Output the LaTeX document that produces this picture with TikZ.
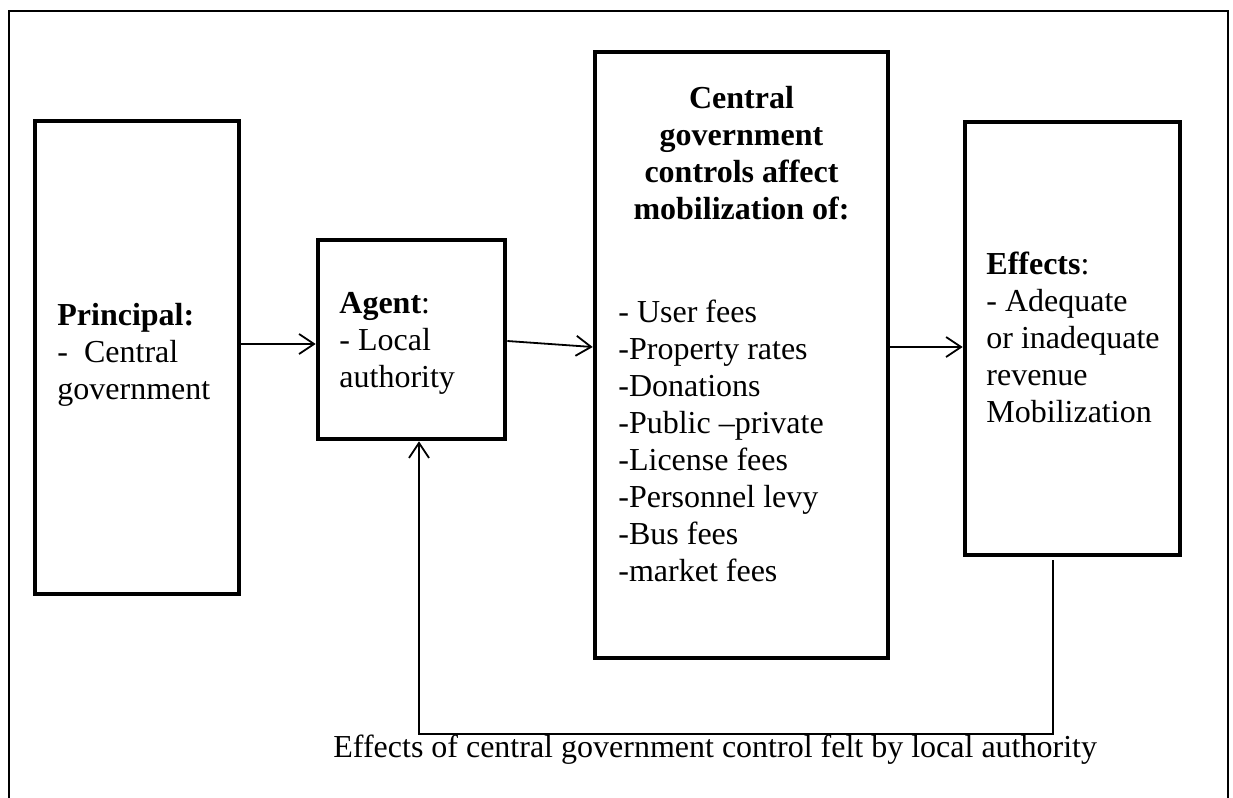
\documentclass[tikz,border=0pt]{standalone}
\usepackage{fontspec}
\setmainfont{Liberation Serif}
\usetikzlibrary{arrows.meta}
\begin{document}
\begin{tikzpicture}[x=0.5pt,y=-0.5pt,font=\fontsize{16}{18.4}\selectfont,
	box/.style={draw,line width=2.3pt,inner sep=0pt},
	link/.style={line width=0.9pt},
	arr/.style={link,-{Straight Barb[length=7.5pt,width=10pt,line width=0.9pt]}},
	txt/.style={anchor=base west,inner sep=0pt}]
	\useasboundingbox (0,0) rectangle (1233,798);
	\draw[line width=1pt] (9,798) -- (9,11) -- (1228,11) -- (1228,798);
	\node[box,minimum width=102pt,minimum height=236.5pt] (principal) at (137,357.5) {};
	\node[box,minimum width=93.5pt,minimum height=99.5pt] (agent) at (411.5,339.5) {};
	\node[box,minimum width=146.5pt,minimum height=303pt] (central) at (741.5,355) {};
	\node[box,minimum width=107.5pt,minimum height=216.5pt] (effects) at (1072.5,338.5) {};
	\foreach \t [count=\i] in {{\textbf{Principal:}},{-\ \ Central},government}
		\node[txt] (p\i) at (57,288+37*\i) {\t};
	\foreach \t [count=\i] in {{\textbf{Agent}:},{- Local},authority}
		\node[txt] (a\i) at (339,276+37*\i) {\t};
	\foreach \t [count=\i] in {Central,government,controls affect,mobilization of:}
		\node[anchor=base,inner sep=0pt] (h\i) at (741.5,71+37*\i) {\textbf{\t}};
	\foreach \t [count=\i] in {{- User fees},{-Property rates},-Donations,{-Public –private},{-License fees},{-Personnel levy},{-Bus fees},{-market fees}}
		\node[txt] (c\i) at (618,285+37*\i) {\t};
	\foreach \t [count=\i] in {{\textbf{Effects}:},{- Adequate},{or inadequate},revenue,Mobilization}
		\node[txt] (e\i) at (986,237+37*\i) {\t};
	\draw[arr] ([yshift=6.75pt]principal.east) -- ([yshift=-2.25pt]agent.west);
	\draw[arr] ([yshift=-0.75pt]agent.east) -- ([yshift=4pt]central.west);
	\draw[arr] ([yshift=4pt]central.east) -- ([yshift=-4.25pt]effects.west);
	\coordinate (fb) at (419,734);
	\draw[arr] ([xshift=-9.75pt,yshift=-1.5pt]effects.south) |- (fb) -- (fb |- agent.south);
	\node[txt] (felt) at (333,757) {Effects of central government control felt by local authority};
\end{tikzpicture}
\end{document}
